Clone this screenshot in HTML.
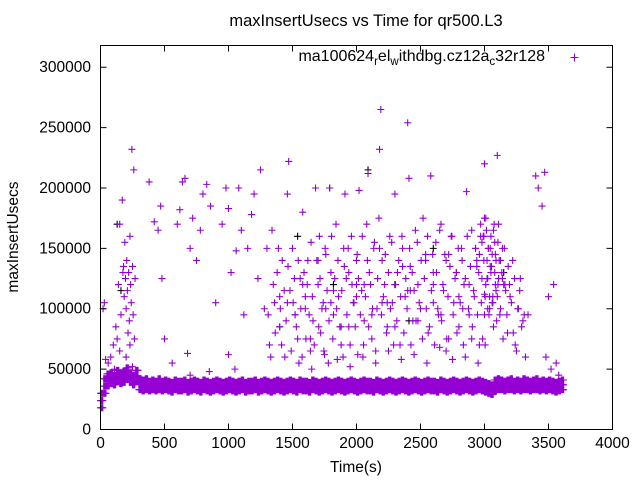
<!DOCTYPE html>
<html><head><meta charset="utf-8"><style>
body{margin:0;background:#fff}
svg{font-family:"Liberation Sans",sans-serif}
</style></head><body>
<svg id="chart" width="640" height="480" viewBox="0 0 640 480" xmlns="http://www.w3.org/2000/svg">
<rect width="640" height="480" fill="#fff"/>
<text x="366" y="26" font-size="16.5" text-anchor="middle">maxInsertUsecs vs Time for qr500.L3</text>
<g id="marks"></g>
<rect x="100.5" y="45.5" width="512" height="384" fill="none" stroke="#000"/>
<g id="axes" font-size="15.5"></g>
<text transform="translate(18,237) rotate(-90)" font-size="15.5" text-anchor="middle">maxInsertUsecs</text>
<text x="356" y="472" font-size="15.5" text-anchor="middle">Time(s)</text>
<text x="545" y="61" font-size="16" text-anchor="end">ma100624<tspan dy="4" font-size="11.5">r</tspan><tspan dy="-4">el</tspan><tspan dy="4" font-size="11.5">w</tspan><tspan dy="-4">ithdbg.cz12a</tspan><tspan dy="4" font-size="11.5">c</tspan><tspan dy="-4">32r128</tspan></text>
<path d="M570.5,57.5h8M574.5,53.5v8" stroke="#9400d3" stroke-width="1"/>
</svg>
<script>
const xTicks=[0,500,1000,1500,2000,2500,3000,3500,4000];
const yTicks=[0,50000,100000,150000,200000,250000,300000];
const bandT=[0,25,50,75,100,125,150,175,200,225,250,275,300,325,350,375,400,425,450,475,500,525,550,575,600,625,650,675,700,725,750,775,800,825,850,875,900,925,950,975,1000,1025,1050,1075,1100,1125,1150,1175,1200,1225,1250,1275,1300,1325,1350,1375,1400,1425,1450,1475,1500,1525,1550,1575,1600,1625,1650,1675,1700,1725,1750,1775,1800,1825,1850,1875,1900,1925,1950,1975,2000,2025,2050,2075,2100,2125,2150,2175,2200,2225,2250,2275,2300,2325,2350,2375,2400,2425,2450,2475,2500,2525,2550,2575,2600,2625,2650,2675,2700,2725,2750,2775,2800,2825,2850,2875,2900,2925,2950,2975,3000,3025,3050,3075,3100,3125,3150,3175,3200,3225,3250,3275,3300,3325,3350,3375,3400,3425,3450,3475,3500,3525,3550,3575,3600];
const bandHi=[30,42,46,47,45,49,47,48,51,47,45,49,42,41,42,40,41,40,42,40,41,40,39,41,40,40,41,39,40,41,40,39,41,40,39,40,41,40,39,40,41,40,39,40,41,39,40,40,41,39,40,41,40,39,40,41,40,39,40,41,40,39,41,40,40,39,41,40,39,40,41,40,39,40,41,40,39,40,41,40,39,40,41,40,40,39,41,40,39,40,41,40,39,40,41,40,39,40,41,40,39,40,41,40,40,39,41,40,39,40,41,40,39,40,41,40,39,40,41,40,39,38,37,41,42,41,40,41,42,40,41,40,42,41,40,41,42,40,41,40,41,40,39,40,41];
const bandLo=[18,30,36,38,37,40,38,39,42,39,37,40,33,32,33,32,33,32,33,32,33,32,31,33,32,32,33,31,32,33,32,31,33,32,31,32,33,32,31,32,33,32,31,32,33,31,32,32,33,31,32,33,32,31,32,33,32,31,32,33,32,31,33,32,32,31,33,32,31,32,33,32,31,32,33,32,31,32,33,32,31,32,33,32,32,31,33,32,31,32,33,32,31,32,33,32,31,32,33,32,31,32,33,32,32,31,33,32,31,32,33,32,31,32,33,32,31,32,33,32,31,30,29,32,33,33,32,33,33,32,33,32,33,33,32,33,33,32,33,32,33,32,31,32,33];
const scatT=[20,30,40,60,80,100,120,130,140,150,160,170,175,180,185,190,195,200,205,210,215,220,225,230,235,240,245,250,255,260,265,270,150,200,230,110,250,
380,420,450,470,480,500,560,600,620,640,660,680,700,720,750,780,800,830,860,900,950,980,1000,1020,1060,1080,1100,1120,1150,1180,1200,1230,1250,1280,1300,1000,1050,700,850,
1320,1340,1360,1380,1400,1420,1440,1460,1470,1480,1500,1520,1540,1560,1580,1600,1620,1640,1660,1680,1700,1710,1720,1740,1760,1780,1790,1800,1820,1840,1860,1880,1900,1910,1920,1940,1960,1980,2000,2010,2020,2040,2060,2080,2090,2100,2120,2140,2160,2180,2190,2200,2220,2240,2260,2280,2300,2320,2340,2360,2380,2400,2410,2420,2440,2460,2480,2500,2520,2540,2560,2580,2600,2620,2640,2660,2680,2700,2720,2740,2760,2780,2800,2820,2840,2860,2880,2900,2920,2940,2960,2980,3000,3010,3020,3040,3050,3060,3070,3080,3090,3100,3110,3120,3140,3160,3180,3200,3220,3240,3260,3280,3300,3320,3340,3400,3420,3450,3470,3480,3500,3520,3540,3560,3580,
2050,2150,2250,2350,2450,2550,2650,2750,2850,2950,1550,1650,1750,1850,1950,2700,2900,3030,3060,3100,2980,3000,3020,1400,1600,1800,2000,2200,2400,2600,2800,3000];
const scatV=[100,105,58,55,60,70,85,75,120,170,95,190,130,135,110,155,125,100,140,115,80,130,90,160,120,105,232,135,95,215,75,125,65,60,70,50,52,
205,172,165,185,125,75,55,170,182,205,208,63,150,175,140,165,195,203,185,105,170,200,183,130,148,200,165,95,150,178,195,125,215,100,150,62,50,45,48,
70,165,105,130,85,140,60,195,222,115,150,95,75,125,180,110,140,65,90,200,120,160,80,105,145,55,200,130,95,170,110,70,150,195,125,85,160,105,140,62,198,115,90,170,212,130,75,155,100,232,265,140,120,85,160,105,195,130,70,150,110,254,208,135,90,165,120,100,175,145,80,210,130,155,95,170,115,140,75,160,105,130,85,150,120,197,95,165,110,140,70,155,220,175,125,100,160,145,85,130,115,227,170,95,150,120,80,110,140,70,100,125,90,60,95,210,200,185,213,60,110,50,120,55,45,
60,55,65,58,62,55,68,58,60,55,55,50,62,58,52,65,75,150,105,110,125,95,140,110,100,105,120,105,115,105,110,112];
const cloudT=[1310,1330,1350,1365,1390,1405,1415,1435,1450,1465,1490,1505,1515,1530,1545,1565,1575,1590,1605,1615,1630,1645,1655,1670,1690,1705,1715,1730,1745,1755,1770,1785,1805,1815,1830,1845,1855,1870,1885,1895,1905,1925,1935,1950,1965,1975,1990,2005,2015,2030,2045,2055,2070,2085,2095,2110,2125,2135,2150,2165,2175,2195,2210,2225,2235,2250,2265,2275,2290,2305,2315,2330,2345,2355,2370,2385,2395,2415,2425,2435,2450,2465,2475,2490,2505,2515,2530,2545,2555,2570,2585,2595,2610,2625,2635,2650,2665,2675,2690,2705,2715,2730,2745,2755,2770,2785,2795,2810,2825,2835,2850,2865,2875,2890,2905,2915,2930,2945,2955,2970,2985,2995,3005,3015,3025,3035,3045,3055,3065,3075,3085,3095,3105,3115,3125,3135,3145,3155,3165,3175,3185,3195,3210,3225,3235,3250,3265,3275,3290,3310,2940,2960,2990,3010,3030,3050,3070,3090,3110,3000,3040,3080,2970,2930,2880,2830,2780,2720,2660,2600,2540,2480,2420,2360,2300,2240,2180,2120,2060,2000,1940,1880,1820,1760,1700,1640,1580,1520,1460,1400,3005,3025,3045,3065,3085,3105,2995,2975,3125,3140,3150];
const cloudV=[95,60,120,80,150,100,70,115,90,135,65,105,125,85,140,100,60,130,75,120,95,155,110,70,140,85,125,100,65,150,115,90,160,75,125,100,140,85,115,60,135,95,150,70,120,105,85,145,125,95,160,70,110,140,85,120,100,150,65,125,175,95,110,145,80,130,100,155,70,120,90,140,110,160,80,125,100,150,70,130,115,90,155,105,140,75,125,100,160,85,115,145,70,130,100,165,90,120,145,75,110,135,160,95,125,80,150,105,140,70,125,160,100,135,85,115,150,95,130,160,75,140,110,165,125,95,150,135,105,170,120,90,155,140,100,130,75,150,115,95,135,120,105,80,125,65,100,115,85,95,135,145,160,120,150,130,165,140,125,175,110,155,170,150,120,100,130,145,95,120,140,90,115,135,85,105,150,95,120,110,130,85,115,100,140,75,120,95,105,85,70,100,135,110,145,120,160,105,140,125,120,95];
const blackT=[130,160,1540,1820,2300,2410,2090,1790,2600,3150];
const blackV=[170,115,160,120,120,90,215,200,150,130];
const X=t=>100.5+t*512/4000, Y=v=>429.5-v*384/318000;
const NS="http://www.w3.org/2000/svg";
const marks=document.getElementById('marks'), axes=document.getElementById('axes');
function plus(t,v,color,name){
  const p=document.createElementNS(NS,'path');
  const x=X(t),y=Y(v*1000);
  p.setAttribute('d',`M${x-3.5},${y}h7M${x},${y-3.5}v7`);
  p.setAttribute('stroke',color);
  p.setAttribute('stroke-width','1.1');
  p.setAttribute('fill','none');
  
  
  marks.appendChild(p);
}
blackT.forEach((t,i)=>plus(t,blackV[i],'#000','point-black'));
bandT.forEach((t,i)=>{
  const mid=(bandHi[i]+bandLo[i])/2;
  [0,6,12,18].forEach(o=>{plus(t+o,bandHi[i],'#9400d3','band-point');plus(t+o,bandLo[i],'#9400d3','band-point');plus(t+o,mid,'#9400d3','band-point');});
});
scatT.forEach((t,i)=>plus(t,scatV[i],'#9400d3','point'));
cloudT.forEach((t,i)=>plus(t,cloudV[i],'#9400d3','cloud-point'));
xTicks.forEach(t=>{
  const x=X(t);
  const l=document.createElementNS(NS,'path');
  l.setAttribute('d',`M${x},429.5v-6M${x},45.5v6`);l.setAttribute('stroke','#000');
  
  
  axes.appendChild(l);
  const tx=document.createElementNS(NS,'text');
  tx.setAttribute('x',x);tx.setAttribute('y',448);tx.setAttribute('text-anchor','middle');tx.textContent=t;
  
  
  axes.appendChild(tx);
});
yTicks.forEach(v=>{
  const y=Y(v);
  const l=document.createElementNS(NS,'path');
  l.setAttribute('d',`M100.5,${y}h6M612.5,${y}h-6`);l.setAttribute('stroke','#000');
  
  
  axes.appendChild(l);
  const tx=document.createElementNS(NS,'text');
  tx.setAttribute('x',91);tx.setAttribute('y',y+5);tx.setAttribute('text-anchor','end');tx.textContent=v;
  
  
  axes.appendChild(tx);
});
</script>
</body></html>
